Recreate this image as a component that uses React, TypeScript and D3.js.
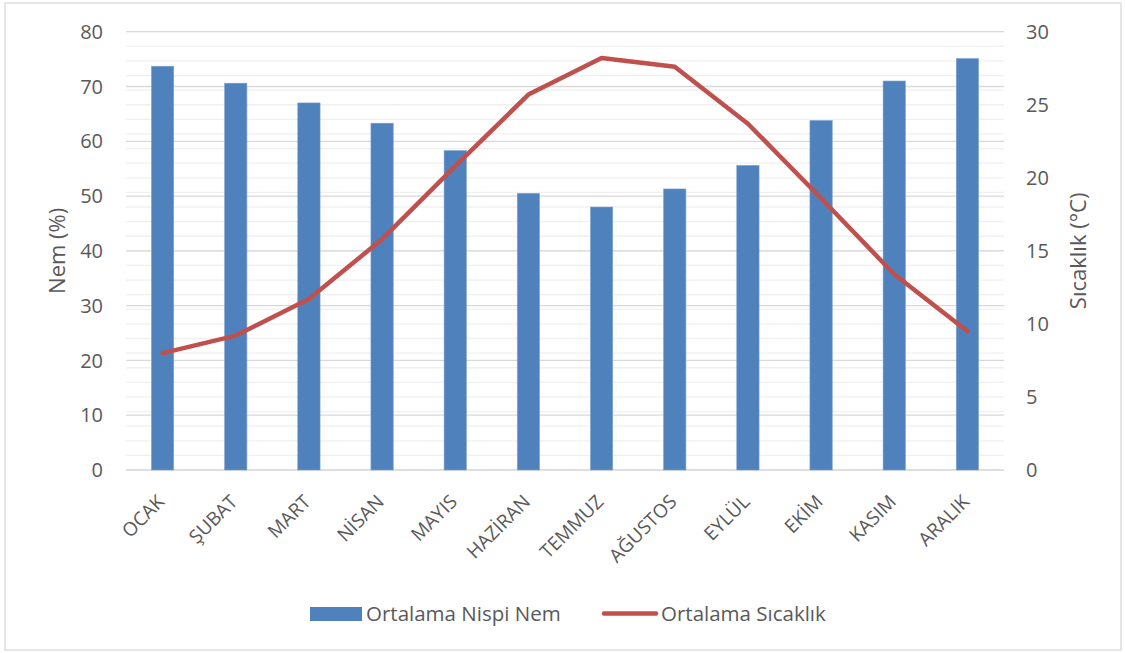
import React from "react";
import * as d3 from "d3";

const months = ["OCAK", "ŞUBAT", "MART", "NİSAN", "MAYIS", "HAZİRAN", "TEMMUZ", "AĞUSTOS", "EYLÜL", "EKİM", "KASIM", "ARALIK"];
const humidity = [73.7, 70.6, 67.0, 63.3, 58.3, 50.5, 48.0, 51.3, 55.6, 63.8, 71.0, 75.1];
const temperature = [8.0, 9.2, 11.7, 15.8, 20.8, 25.7, 28.2, 27.6, 23.7, 18.6, 13.4, 9.5];
const leftTicks = [0, 10, 20, 30, 40, 50, 60, 70, 80];
const rightTicks = [0, 5, 10, 15, 20, 25, 30];
const rightMinor = d3.range(0, 31, 1);

const W = 1125, H = 653;
const left = 126, right = 1004, top = 31.7, bottom = 470;
const FONT = "'Open Sans', sans-serif";
const TXT = "#595959";

export default function App() {
  const x = d3.scaleBand<string>().domain(months).range([left, right]).paddingInner(0.695).paddingOuter(0.3475);
  const yL = d3.scaleLinear().domain([0, 80]).range([bottom, top]);
  const yR = d3.scaleLinear().domain([0, 30]).range([bottom, top]);
  const line = d3.line<number>()
    .x((_, i) => (x(months[i]) as number) + x.bandwidth() / 2)
    .y((d) => yR(d));

  return (
    <svg width={W} height={H} style={{ position: "absolute", left: 0, top: 0, background: "#fff" }}>
      <rect x={5} y={3} width={1116} height={647} fill="#fff" stroke="#d9d9d9" strokeWidth={1.3} />
      {rightMinor.map((t) => (
        <line key={"m" + t} x1={left} x2={right} y1={yR(t)} y2={yR(t)} stroke="#f0f0f0" strokeWidth={1.3} />
      ))}
      {leftTicks.map((t) => (
        <line key={"g" + t} x1={left} x2={right} y1={yL(t)} y2={yL(t)} stroke="#d9d9d9" strokeWidth={1.3} />
      ))}
      {humidity.map((v, i) => (
        <rect key={"b" + i} x={x(months[i])} y={yL(v)} width={x.bandwidth()} height={yL(0) - yL(v)} fill="#4f81bd" stroke="#7fa3d1" strokeWidth={0.6} />
      ))}
      <path d={line(temperature) || ""} fill="none" stroke="#c0504d" strokeWidth={4.5} strokeLinejoin="round" strokeLinecap="round" />
      {leftTicks.map((t) => (
        <text key={"lt" + t} x={103} y={yL(t)} dy="0.36em" textAnchor="end" fontFamily={FONT} fontSize={20} fill={TXT}>{t}</text>
      ))}
      {rightTicks.map((t) => (
        <text key={"rt" + t} x={1026} y={yR(t)} dy="0.36em" textAnchor="start" fontFamily={FONT} fontSize={20} fill={TXT}>{t}</text>
      ))}
      <text transform={`translate(57,${(top + bottom) / 2}) rotate(-90)`} textAnchor="middle" dy="0.35em" fontFamily={FONT} fontSize={22} fill={TXT}>Nem (%)</text>
      <text transform={`translate(1078,${(top + bottom) / 2}) rotate(-90)`} textAnchor="middle" dy="0.35em" fontFamily={FONT} fontSize={22} fill={TXT}>Sıcaklık (°C)</text>
      {months.map((m) => {
        const cx = (x(m) as number) + x.bandwidth() / 2;
        return (
          <text key={"x" + m} transform={`translate(${cx + 3},${503}) rotate(-45)`} textAnchor="end" fontFamily={FONT} fontSize={19} fill={TXT}>{m}</text>
        );
      })}
      <rect x={310} y={607} width={52} height={14} fill="#4f81bd" />
      <text x={366} y={621} fontFamily={FONT} fontSize={20.5} fill={TXT}>Ortalama Nispi Nem</text>
      <line x1={604} x2={656} y1={613.5} y2={613.5} stroke="#c0504d" strokeWidth={4.5} strokeLinecap="round" />
      <text x={661} y={621} fontFamily={FONT} fontSize={20.5} fill={TXT}>Ortalama Sıcaklık</text>
    </svg>
  );
}
